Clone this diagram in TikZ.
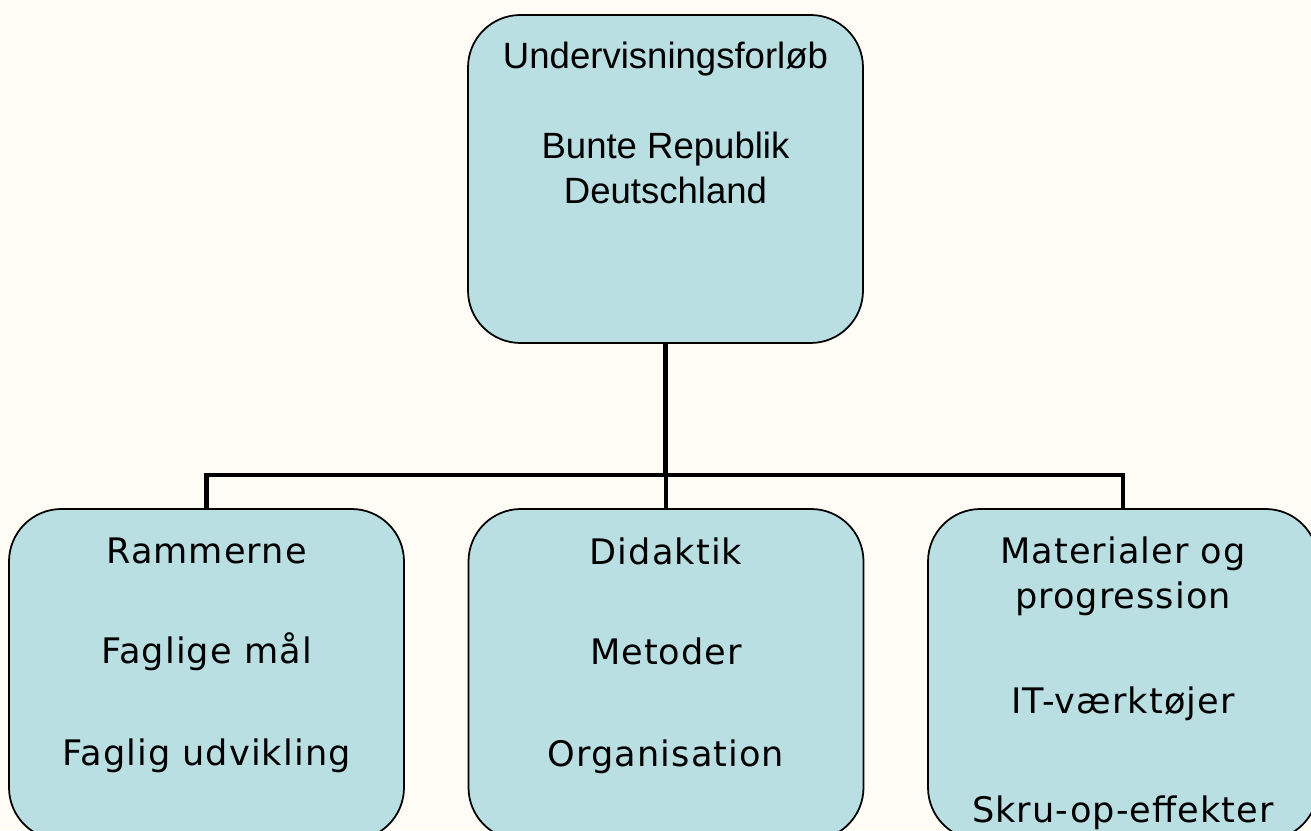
\documentclass[tikz,border=0pt]{standalone}
\usepackage{fontspec}
\setmainfont{DejaVu Sans}[LetterSpace=3]
\newfontfamily\topfont{Liberation Sans}
\usetikzlibrary{calc,positioning}
\definecolor{boxfill}{RGB}{185,223,227}
\definecolor{paper}{RGB}{255,252,245}
\tikzset{
    box/.style={draw=black,line width=1pt,fill=boxfill,rounded corners=1.05cm,
                minimum width=7.9cm,inner sep=0pt},
    txt/.style={align=center,inner sep=0pt,anchor=north},
    conn/.style={line width=2.8pt}
}
\begin{document}
\begin{tikzpicture}
        \clip (0,0) rectangle (26.22,16.6);
        \fill[paper] (0,0) rectangle (26.22,16.6);

        % top box
        \node[box,minimum height=6.56cm] (top) at (13.31,13.02) {};
        \node[txt,font=\topfont\fontsize{20.8}{25.6}\selectfont] (toptxt) at ($(top.north)+(0,-0.56)$)
            {Undervisningsforløb\\[0.9cm]Bunte Republik\\Deutschland};

        % bottom boxes
        \node[box,minimum height=6.62cm] (ram) at (4.13,3.11) {};
        \node[box,minimum height=6.62cm] (did) at (13.32,3.11) {};
        \node[box,minimum height=6.62cm,minimum width=7.8cm] (mat) at (22.46,3.11) {};

        \node[txt,font=\fontsize{20}{25.6}\selectfont] (ramtxt) at ($(ram.north)+(0,-0.58)$)
            {Rammerne\\[1.1cm]Faglige mål\\[1.14cm]Faglig udvikling};
        \node[txt,font=\fontsize{20}{25.6}\selectfont] (didtxt) at ($(did.north)+(0,-0.58)$)
            {Didaktik\\[1.1cm]Metoder\\[1.14cm]Organisation};
        \node[txt,font=\fontsize{20}{25.6}\selectfont] (mattxt) at ($(mat.north)+(0,-0.56)$)
            {Materialer og\\progression\\[1.2cm]IT-værktøjer\\[1.28cm]Skru-op-effekter};

        % connectors
        \coordinate (j) at (13.31,7.1);
        \draw[conn] (top.south) -- (j);
        \draw[conn] (ram.north) |- (j) -| (mat.north);
        \draw[conn] (did.north) -- (did.north |- j);
    \end{tikzpicture}
\end{document}
